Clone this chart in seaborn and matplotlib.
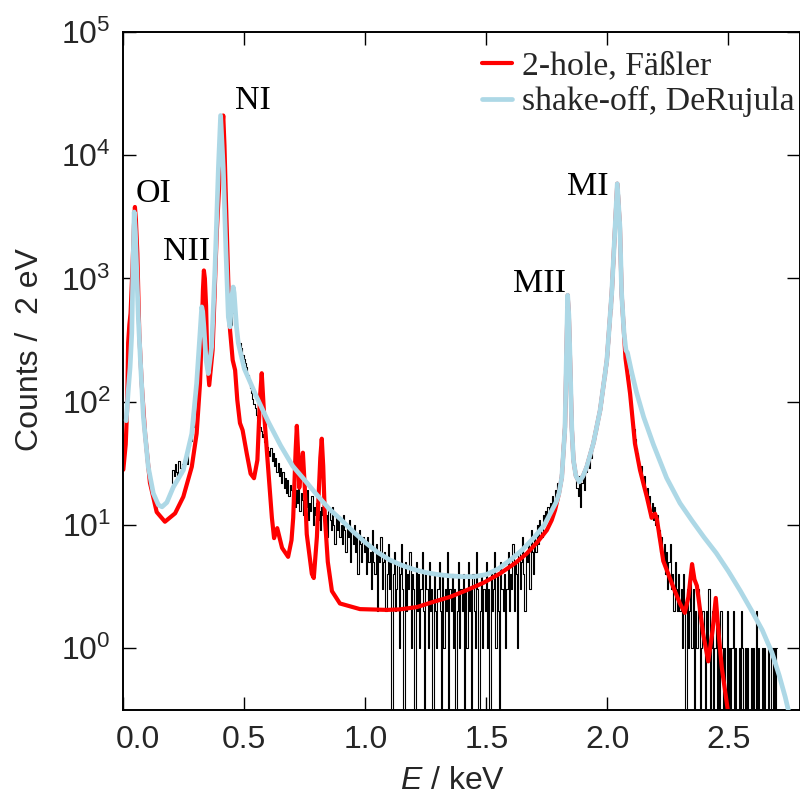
import numpy as np
import pandas as pd
import matplotlib
matplotlib.use("Agg")
import matplotlib.pyplot as plt
from matplotlib.ticker import FixedLocator, NullLocator, FormatStrFormatter
from matplotlib.transforms import ScaledTranslation
import seaborn as sns

# ---------------- data ----------------
# measured spectrum (counts / 2 eV), bin centres from 0.200 keV in 5 eV steps
data_E_start = 0.200
data_E_step = 0.005
data_counts = [
    22, 28, 25, 31, 27, 24, 33, 29, 26, 31, 28, 34, 36, 31, 40, 44, 48, 55, 62, 80,          # 0.20
    100, 130, 180, 260, 380, 520, 560, 420, 280, 190, 160, 150, 180, 240, 400, 700, 1400, 2200, 4500, 9000,  # 0.30
    15000, 19000, 18000, 11000, 5000, 1800, 800, 450, 380, 420, 520, 560, 480, 400, 340, 310, 290, 300, 270, 240,  # 0.40
    220, 205, 190, 165, 150, 130, 118, 105, 95, 88, 78, 72, 66, 62, 58, 52, 55, 47, 49, 43,  # 0.50
    40, 36, 42, 33, 38, 30, 35, 27, 32, 25, 29, 22, 27, 20, 24, 18, 23, 17, 21, 19,          # 0.60
    16, 22, 14, 19, 15, 21, 13, 18, 16, 12, 17, 14, 19, 11, 15, 13, 17, 10, 14, 12,          # 0.70
    15, 11, 13, 9, 14, 12, 16, 10, 12, 8, 13, 11, 9, 14, 10, 7, 12, 9, 11, 8,                # 0.80
    10, 7, 12, 9, 6, 10, 8, 11, 5, 9, 7, 10, 6, 8, 4, 9, 7, 5, 8, 6,                         # 0.90
    7, 4, 8, 5, 6, 3, 9, 5, 4, 7, 2, 6, 5, 8, 3, 5, 6, 2, 4, 7,                              # 1.00
    3, 5, 0, 4, 6, 2, 3, 5, 1, 4, 7, 3, 0, 5, 2, 4, 3, 6, 1, 4,                              # 1.10
    3, 0, 5, 2, 4, 1, 3, 6, 2, 0, 4, 3, 1, 5, 2, 3, 0, 4, 2, 1,                              # 1.20
    3, 5, 2, 0, 4, 1, 3, 2, 6, 0, 3, 2, 4, 1, 3, 0, 2, 5, 1, 3,                              # 1.30
    2, 4, 0, 3, 1, 5, 2, 3, 0, 4, 2, 1, 6, 3, 0, 2, 4, 1, 3, 2,                              # 1.40
    5, 1, 3, 0, 4, 2, 3, 6, 1, 4, 2, 0, 5, 3, 2, 4, 1, 3, 6, 2,                              # 1.50
    4, 3, 7, 2, 5, 4, 1, 6, 3, 5, 8, 4, 2, 6, 5, 7, 3, 9, 6, 4,                              # 1.60
    8, 6, 10, 7, 11, 9, 8, 12, 10, 13, 11, 14, 12, 15, 13, 17, 15, 19, 18, 22,               # 1.70
    20, 26, 30, 45, 60, 90, 300, 700, 550, 200, 85, 45, 32, 28, 24, 20, 17, 25, 14, 22,     # 1.80
    26, 19, 30, 27, 33, 29, 38, 35, 44, 48, 55, 58, 66, 74, 85, 98, 115, 135, 160, 195,     # 1.90
    240, 300, 400, 560, 800, 1300, 2200, 3600, 5900, 4800, 3000, 1500, 700, 450, 330, 240, 180, 150, 120, 100,  # 2.00
    85, 70, 60, 50, 42, 38, 33, 29, 30, 24, 22, 25, 18, 20, 15, 17, 13, 15, 11, 14,          # 2.10
    10, 12, 8, 9, 6, 8, 5, 7, 4, 6, 3, 5, 7, 3, 4, 2, 5, 3, 2, 4,                            # 2.20
    2, 3, 1, 4, 2, 0, 3, 1, 2, 4, 1, 3, 0, 2, 1, 3, 2, 0, 1, 2,                              # 2.30
    1, 0, 2, 1, 3, 0, 1, 2, 0, 1, 2, 0, 1, 0, 2, 1, 0, 1, 0, 2,                              # 2.40
    0, 1, 0, 1, 2, 0, 1, 0, 0, 1, 0, 2, 1, 0, 1, 0, 1, 0, 0, 1,                              # 2.50
    0, 1, 0, 2, 0, 1, 0, 0, 1, 0, 1, 0, 0, 1, 0, 0, 1, 0, 1, 0,                              # 2.60
    1,                                                                                        # 2.70
]
data_E = [round(data_E_start + i * data_E_step, 4) for i in range(len(data_counts))]

# 2-hole model (Faessler)
red_E = [0.000, 0.010, 0.016, 0.020, 0.025, 0.030, 0.038, 0.044, 0.048, 0.052,
         0.058, 0.066, 0.076, 0.090, 0.110, 0.138, 0.172, 0.214, 0.248, 0.283,
         0.303, 0.317, 0.324, 0.329, 0.333, 0.337, 0.342, 0.347, 0.355, 0.369,
         0.386, 0.400, 0.408, 0.413, 0.418, 0.424, 0.434, 0.441, 0.452, 0.462,
         0.471, 0.482, 0.493, 0.510, 0.526, 0.540, 0.554, 0.565, 0.572, 0.580,
         0.593, 0.614, 0.623, 0.636, 0.656, 0.681, 0.695, 0.702, 0.712, 0.717,
         0.722, 0.727, 0.735, 0.742, 0.750, 0.758, 0.779, 0.787, 0.800, 0.806,
         0.814, 0.820, 0.826, 0.833, 0.845, 0.862, 0.895, 0.978, 1.090, 1.143,
         1.213, 1.281, 1.350, 1.419, 1.490, 1.557, 1.620, 1.667, 1.710, 1.750,
         1.770, 1.784, 1.800, 1.812, 1.825, 1.831, 1.836, 1.841, 1.846, 1.853,
         1.860, 1.870, 1.884, 1.900, 1.915, 1.942, 1.970, 1.998, 2.018, 2.032,
         2.041, 2.052, 2.059, 2.069, 2.075, 2.094, 2.114, 2.135, 2.163, 2.183,
         2.190, 2.197, 2.205, 2.231, 2.273, 2.300, 2.320, 2.335, 2.350, 2.360,
         2.370, 2.396, 2.417, 2.435, 2.448, 2.460, 2.473, 2.498, 2.506]
red_counts = [28, 45, 90, 300, 420, 520, 1230, 2700, 3800, 3000,
              1600, 360, 141, 55, 22, 12.7, 10.6, 12.4, 16.9, 29.6,
              55, 141, 359, 800, 1160, 1000, 600, 217, 136, 261,
              2320, 7970, 16000, 21000, 12000, 4300, 911, 380, 217, 180,
              103, 67, 58.6, 38, 26, 23.9, 33.5, 110, 170, 90,
              40, 11.4, 7.8, 9.4, 6.5, 5.5, 7.5, 11.4, 40, 63.6,
              40, 20, 30, 38.5, 20, 8.4, 4.0, 3.7, 8.0, 15.6,
              35, 50, 30, 11.4, 5.0, 2.9, 2.3, 2.07, 2.04, 2.06,
              2.15, 2.37, 2.6, 2.95, 3.4, 4.03, 4.9, 5.85, 7.2, 9.05,
              10.9, 13.2, 18, 24.5, 62, 250, 730, 500, 217, 62,
              33.5, 25, 22.3, 25, 29.6, 45.7, 85, 217, 753, 2610,
              5870, 2610, 753, 357, 224, 116, 45.7, 27.8, 16.9, 11.4,
              11.8, 12.3, 11.0, 5.1, 3.1, 2.3, 1.93, 2.6, 4.8, 3.6,
              3.2, 1.3, 0.78, 1.4, 2.55, 1.3, 0.69, 0.31, 0.25]

# shake-off model (DeRujula)
blue_E = [0.012, 0.020, 0.028, 0.035, 0.040, 0.045, 0.050, 0.055, 0.062, 0.072,
          0.083, 0.103, 0.124, 0.145, 0.160, 0.180, 0.207, 0.248, 0.283, 0.303,
          0.317, 0.324, 0.328, 0.333, 0.342, 0.351, 0.365, 0.379, 0.393, 0.402,
          0.413, 0.424, 0.434, 0.441, 0.448, 0.454, 0.458, 0.462, 0.468, 0.475,
          0.500, 0.550, 0.600, 0.650, 0.700, 0.750, 0.800, 0.850, 0.900, 0.950,
          1.000, 1.050, 1.100, 1.150, 1.200, 1.250, 1.300, 1.350, 1.400, 1.450,
          1.500, 1.550, 1.600, 1.650, 1.700, 1.740, 1.770, 1.790, 1.800, 1.812,
          1.825, 1.831, 1.836, 1.841, 1.846, 1.853, 1.860, 1.870, 1.884, 1.900,
          1.915, 1.942, 1.970, 1.998, 2.018, 2.032, 2.041, 2.052, 2.059, 2.069,
          2.077, 2.083, 2.100, 2.120, 2.150, 2.190, 2.245, 2.300, 2.350, 2.400,
          2.450, 2.500, 2.550, 2.600, 2.640, 2.680, 2.710, 2.735, 2.750, 2.765]
blue_counts = [70, 120, 190, 359, 1200, 3460, 2400, 1230, 486, 190,
               75, 29.6, 18, 14.5, 14, 15.2, 20.3, 27.8, 55, 141,
               359, 587, 540, 404, 217, 169, 278, 1230, 7970, 21000,
               7970, 1690, 486, 404, 700, 851, 760, 587, 400, 300,
               185, 110, 68, 44, 30, 23, 17.5, 13.5, 11, 8.8,
               7.2, 6.0, 5.2, 4.7, 4.35, 4.1, 3.95, 3.85, 3.8, 3.8,
               3.95, 4.4, 5.2, 6.3, 8.0, 10.0, 13.0, 15.5, 18, 24.5,
               62, 250, 730, 500, 217, 62, 33.5, 25, 22.3, 25,
               29.6, 45.7, 85, 217, 753, 2610, 5870, 2610, 753, 357,
               261, 250, 175, 120, 75, 45, 24, 15, 10.8, 7.9,
               5.9, 4.2, 2.9, 1.95, 1.4, 0.92, 0.6, 0.4, 0.3, 0.22]

peak_labels = ["OI", "NII", "NI", "MII", "MI"]
peak_label_E = [0.0525, 0.164, 0.4616, 1.610, 1.833]
peak_label_counts = [4150, 1400, 23650, 771, 4720]

legend_labels = ["2-hole, Fäßler", "shake-off, DeRujula"]

# ---------------- style ----------------
sns.set_theme(style="ticks")
plt.rcParams["font.family"] = ["Liberation Sans", "DejaVu Sans"]
plt.rcParams["mathtext.fontset"] = "custom"
plt.rcParams["mathtext.rm"] = "Liberation Sans"
plt.rcParams["mathtext.it"] = "Liberation Sans:italic"
plt.rcParams["mathtext.default"] = "regular"

fig = plt.figure(figsize=(8, 8), dpi=100)
ax = fig.add_axes([123.3 / 800, 90 / 800, 676.7 / 800, 678 / 800])

df_data = pd.DataFrame({"E": data_E, "counts": data_counts})
df_red = pd.DataFrame({"E": red_E, "counts": red_counts})
df_blue = pd.DataFrame({"E": blue_E, "counts": blue_counts})

sns.lineplot(data=df_data, x="E", y="counts", ax=ax, color="black", linewidth=0.8,
             drawstyle="steps-mid", estimator=None, sort=False, zorder=1)
sns.lineplot(data=df_red, x="E", y="counts", ax=ax, color="#ff0000", linewidth=3.0,
             estimator=None, sort=False, zorder=2)
sns.lineplot(data=df_blue, x="E", y="counts", ax=ax, color="#add8e6", linewidth=3.4,
             estimator=None, sort=False, zorder=3)

ax.set_yscale("log", nonpositive="clip")
ax.set_xlim(0.0, 2.796)
ax.set_ylim(10 ** (-62 / 123.3), 1e5)

ax.xaxis.set_major_locator(FixedLocator([0.0, 0.5, 1.0, 1.5, 2.0, 2.5]))
ax.xaxis.set_major_formatter(FormatStrFormatter("%.1f"))
ax.xaxis.set_minor_locator(NullLocator())
ax.yaxis.set_major_locator(FixedLocator([1, 10, 100, 1e3, 1e4, 1e5]))
ax.yaxis.set_minor_locator(NullLocator())

ax.tick_params(axis="both", which="major", direction="in", length=9.5, width=1.0,
               top=True, right=True, labelsize=23, color="black")
ax.tick_params(axis="x", pad=11)
ax.tick_params(axis="y", pad=9)
for s in ax.spines.values():
    s.set_linewidth(1.4)
    s.set_color("black")

ax.set_xlabel(r"$\mathit{E}$ / keV", fontsize=23)
ax.set_ylabel("Counts /  2 eV", fontsize=23)
ax.xaxis.set_label_coords(0.486, -0.083)
ax.yaxis.set_label_coords(-0.116, 0.531)

for lab, e, c in zip(peak_labels, peak_label_E, peak_label_counts):
    ax.text(e, c, lab, family=["Liberation Serif", "DejaVu Serif"], fontsize=24.5,
            ha="left", va="baseline", color="black", zorder=5)

lines = ax.get_lines()
leg = ax.legend(handles=[lines[1], lines[2]], labels=legend_labels, loc="upper right",
                bbox_to_anchor=(1.0, 1.0 - 14 / 678),
                frameon=False, prop={"family": ["Liberation Serif", "DejaVu Serif"], "size": 24.3},
                handlelength=0.9, handletextpad=0.3, labelspacing=0.14,
                borderaxespad=0.05, borderpad=0.1)

# the first x tick label sits slightly to the right of its tick in the reference
fig.canvas.draw()
t0 = ax.xaxis.get_major_ticks()[0]
t0.label1.set_transform(t0.label1.get_transform() + ScaledTranslation(0.15, 0, fig.dpi_scale_trans))

fig.savefig("out.png", dpi=100)
